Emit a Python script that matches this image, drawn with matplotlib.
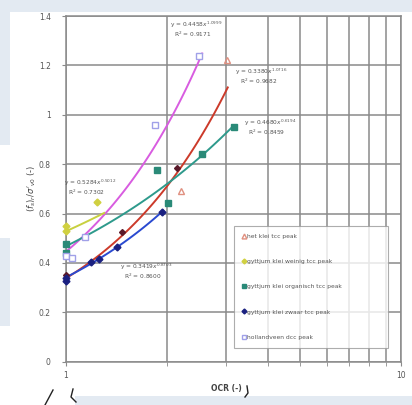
import matplotlib
matplotlib.use("Agg")
import matplotlib.pyplot as plt
import numpy as np
from matplotlib.patches import Rectangle
from matplotlib.lines import Line2D
from matplotlib.ticker import NullFormatter

# ---------------- data ----------------
het_klei_x = [2.20, 3.02]
het_klei_y = [0.69, 1.22]
klei_dark_x = [1.0, 1.47, 2.14]
klei_dark_y = [0.35, 0.524, 0.783]
weinig_x = [1.0, 1.0, 1.24]
weinig_y = [0.55, 0.53, 0.645]
organisch_x = [1.0, 1.0, 1.87, 2.01, 2.54, 3.18]
organisch_y = [0.475, 0.44, 0.776, 0.644, 0.843, 0.951]
zwaar_x = [1.0, 1.0, 1.185, 1.255, 1.417, 1.93]
zwaar_y = [0.34, 0.325, 0.405, 0.414, 0.466, 0.605]
veen_x = [1.0, 1.04, 1.14, 1.84, 2.49]
veen_y = [0.43, 0.42, 0.506, 0.958, 1.237]

# power-law trendlines: (coef, exponent, x_end)
trend_magenta = (0.4458, 1.10, 2.55)
trend_red = (0.3380, 1.07, 3.04)
trend_teal = (0.4680, 0.62, 3.15)
trend_yellow = (0.5284, 0.50, 1.30)
trend_blue = (0.3419, 0.87, 1.95)

legend_labels = ["het klei tcc peak", "gyttjum klei weinig tcc peak",
                 "gyttjum klei organisch tcc peak", "gyttjum klei zwaar tcc peak",
                 "hollandveen dcc peak"]

y_ticks = [0, 0.2, 0.4, 0.6, 0.8, 1, 1.2, 1.4]
y_tick_labels = ["0", "0.2", "0.4", "0.6", "0.8", "1", "1.2", "1.4"]

# ---------------- figure ----------------
fig = plt.figure(figsize=(4.12, 4.05), dpi=100)
fig.patch.set_facecolor("white")
bg = "#e3eaf2"
W, H = 412, 405
def frect(x0, y0, x1, y1):
    fig.patches.append(Rectangle((x0 / W, 1 - y1 / H), (x1 - x0) / W, (y1 - y0) / H,
                                 transform=fig.transFigure, facecolor=bg,
                                 edgecolor="none", zorder=0))
frect(0, 0, 412, 12)
frect(0, 0, 10, 145)
frect(0, 238, 10, 326)
frect(75, 396, 412, 405)

ax = fig.add_axes([66 / W, 1 - 361.7 / H, 335 / W, 345.7 / H])
ax.set_xscale("log")
ax.set_xlim(1, 10)
ax.set_ylim(0, 1.4)
ax.set_facecolor("white")

grid_c = "#8a8a8a"
ax.set_yticks(y_ticks)
ax.set_yticklabels(y_tick_labels)
ax.set_xticks([1, 10])
ax.set_xticklabels(["1", "10"])
ax.xaxis.set_minor_formatter(NullFormatter())
ax.grid(True, which="both", color=grid_c, linewidth=1.1)
ax.tick_params(which="both", length=3, color=grid_c, labelsize=5.5, labelcolor="#555555")
ax.tick_params(axis="y", pad=8)
for s in ax.spines.values():
    s.set_color(grid_c)
    s.set_linewidth(1.1)

def trend(t, color):
    a, b, xe = t
    xs = np.logspace(0, np.log10(xe), 60)
    ax.plot(xs, a * xs ** b, color=color, lw=1.4, zorder=3)

trend(trend_magenta, "#d85ce0")
trend(trend_red, "#cc3a2a")
trend(trend_teal, "#2e9a8c")
trend(trend_yellow, "#c8d040")
trend(trend_blue, "#2a4ad0")

ms = 4
ax.plot(het_klei_x, het_klei_y, ls="none", marker="^", mfc="none", mec="#e09080", ms=ms + 1, zorder=4, clip_on=False)
ax.plot(klei_dark_x, klei_dark_y, ls="none", marker="D", color="#5a1a2a", ms=ms - 1, zorder=4, clip_on=False)
ax.plot(weinig_x, weinig_y, ls="none", marker="D", color="#d0d040", ms=ms - 0.5, zorder=4, clip_on=False)
ax.plot(organisch_x, organisch_y, ls="none", marker="s", color="#2a8a78", ms=ms, zorder=4, clip_on=False)
ax.plot(zwaar_x, zwaar_y, ls="none", marker="D", color="#1a2080", ms=ms - 0.5, zorder=4, clip_on=False)
ax.plot(veen_x, veen_y, ls="none", marker="s", mfc="white", mec="#a0a0e8", ms=ms + 1, zorder=4, clip_on=False)

fs_eq = 4.2
tc = "#555555"
def eq(x, y, coef, exp_txt, r2):
    ax.text(x, y, "y = %s$x^{%s}$" % (coef, exp_txt), fontsize=fs_eq, color=tc, clip_on=False)
    ax.text(x * 1.03, y - 0.04, "R$^2$ = %s" % r2, fontsize=fs_eq, color=tc, clip_on=False)

eq(2.04, 1.355, "0.4458", "1.0999", "0.9171")
eq(3.2, 1.165, "0.3380", "1.0716", "0.9682")
eq(3.4, 0.96, "0.4680", "0.6194", "0.8459")
eq(0.985, 0.715, "0.5284", "0.5012", "0.7302")
eq(1.45, 0.375, "0.3419", "0.8703", "0.8600")

ax.set_xlabel("OCR (-)", fontsize=5.5, color="#444444", fontweight="bold")
ax.xaxis.set_label_coords(0.48, -0.065)
ax.set_ylabel(r"$(f_s)_r/\sigma'_{v0}$ (-)", fontsize=6, color="#444444")
ax.yaxis.set_label_coords(-0.085, 0.5)

handles = [
    Line2D([], [], ls="none", marker="^", mfc="none", mec="#e09080", ms=3.5),
    Line2D([], [], ls="none", marker="D", color="#d0d040", ms=2.5),
    Line2D([], [], ls="none", marker="s", color="#2a8a78", ms=3),
    Line2D([], [], ls="none", marker="D", color="#1a2080", ms=2.5),
    Line2D([], [], ls="none", marker="s", mfc="white", mec="#a0a0e8", ms=3.5),
]
leg = ax.legend(handles, legend_labels, loc="upper left",
                bbox_to_anchor=(0.4925, 0.034, 0.4775, 0.367), mode="expand",
                fontsize=4.3, labelspacing=3.35, handlelength=0.6, handletextpad=0.3,
                borderpad=1.3, frameon=True, fancybox=False, labelcolor="#555555")
leg.get_frame().set_edgecolor("#999999")
leg.get_frame().set_linewidth(0.8)

# decorative strokes at the bottom
fig.lines.append(Line2D([45 / W, 53 / W], [1 - 405 / H, 1 - 390 / H], transform=fig.transFigure, color="#222222", lw=1))
fig.lines.append(Line2D([73 / W, 71 / W, 76 / W], [1 - 389 / H, 1 - 397 / H, 1 - 402 / H], transform=fig.transFigure, color="#222222", lw=1))
fig.lines.append(Line2D([247 / W, 248 / W, 245 / W], [1 - 386 / H, 1 - 393 / H, 1 - 397 / H], transform=fig.transFigure, color="#222222", lw=1))

fig.savefig("out.png", dpi=100, facecolor=fig.get_facecolor())
